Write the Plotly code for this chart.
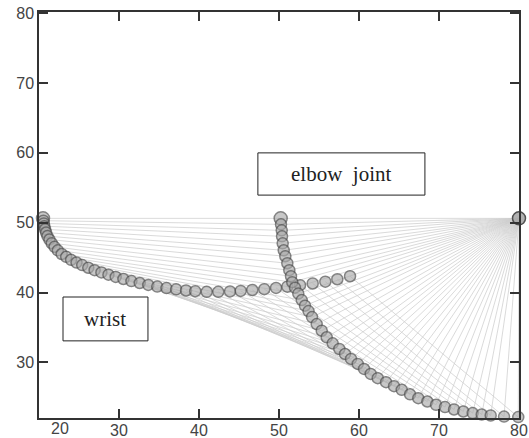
import plotly.graph_objects as go

# Shoulder position
shoulder_x = [80.0]
shoulder_y = [50.62]

# Elbow joint trajectory
elbow_x = [50.21, 50.25, 50.34, 50.38, 50.46, 50.59, 50.79, 51.04, 51.29, 51.5,
           51.66, 52.0, 52.41, 52.84, 53.25, 53.69, 54.13, 54.71, 55.34, 55.96,
           56.71, 57.54, 58.25, 59.0, 59.84, 60.63, 61.46, 62.34, 63.38, 64.38,
           65.34, 66.38, 67.41, 68.54, 69.63, 70.75, 71.88, 73.04, 74.21, 75.34,
           76.46, 78.13, 79.91]
elbow_y = [50.62, 49.76, 48.90, 48.05, 47.05, 46.05, 45.20, 44.20, 43.20, 42.34,
           41.49, 40.70, 39.85, 38.92, 38.13, 37.35, 36.49, 35.49, 34.54, 33.60,
           32.74, 31.93, 31.21, 30.50, 29.79, 29.07, 28.36, 27.75, 27.18, 26.61,
           26.08, 25.44, 24.89, 24.41, 23.94, 23.61, 23.27, 22.98, 22.75, 22.55,
           22.41, 22.25, 22.18]

# Wrist trajectory
wrist_x = [20.5, 20.55, 20.6, 20.66, 20.76, 20.89, 21.05, 21.3, 21.59, 21.94,
           22.35, 22.83, 23.4, 24.01, 24.69, 25.4, 26.16, 26.95, 27.8, 28.68,
           29.59, 30.55, 31.55, 32.59, 33.66, 34.78, 35.93, 37.14, 38.38, 39.53,
           40.96, 42.41, 43.88, 45.21, 46.66, 48.16, 49.63, 51.04, 52.63, 54.21,
           55.79, 57.29, 58.88]
wrist_y = [50.62, 50.29, 49.90, 49.50, 49.06, 48.59, 48.08, 47.59, 47.06, 46.54,
           46.04, 45.52, 45.11, 44.68, 44.30, 43.93, 43.55, 43.21, 42.88, 42.56,
           42.24, 41.94, 41.64, 41.37, 41.10, 40.86, 40.64, 40.46, 40.30, 40.20,
           40.10, 40.10, 40.17, 40.24, 40.37, 40.49, 40.66, 40.84, 41.06, 41.30,
           41.56, 41.91, 42.34]

x_ticks = [20, 30, 40, 50, 60, 70, 80]
x_tick_text = ["", "30", "40", "50", "60", "70", "80"]
y_ticks = [30, 40, 50, 60, 70, 80]

# Link segments: shoulder -> elbow_i -> wrist_i
lx, ly = [], []
for ex, ey, wx, wy in zip(elbow_x, elbow_y, wrist_x, wrist_y):
    lx += [shoulder_x[0], ex, wx, None]
    ly += [shoulder_y[0], ey, wy, None]

fig = go.Figure()
fig.add_trace(go.Scatter(x=lx, y=ly, mode="lines",
                         line=dict(color="rgba(205,205,205,0.75)", width=1),
                         hoverinfo="skip", showlegend=False, cliponaxis=True))

marker_style = dict(color="rgba(168,168,168,0.9)",
                    line=dict(color="rgb(80,80,80)", width=1.5))
elbow_sizes = [13] + [11] * (len(elbow_x) - 1)
wrist_sizes = [13] + [11] * (len(wrist_x) - 1)

fig.add_trace(go.Scatter(x=wrist_x, y=wrist_y, mode="markers",
                         marker=dict(size=wrist_sizes, **marker_style),
                         showlegend=False, cliponaxis=False))
fig.add_trace(go.Scatter(x=elbow_x, y=elbow_y, mode="markers",
                         marker=dict(size=elbow_sizes, **marker_style),
                         showlegend=False, cliponaxis=False))
fig.add_trace(go.Scatter(x=shoulder_x, y=shoulder_y, mode="markers",
                         marker=dict(size=13, **marker_style),
                         showlegend=False, cliponaxis=False))

tick_font = dict(family="Liberation Sans, Arial, sans-serif", size=16,
                 color="#444444")
axis_common = dict(showgrid=False, zeroline=False, showline=True,
                   linecolor="#333333", linewidth=1.5, mirror="ticks",
                   ticks="inside", tickcolor="#333333", tickwidth=1.5,
                   ticklen=9, automargin=False, tickfont=tick_font)

fig.update_xaxes(range=[20, 80], tickvals=x_ticks, ticktext=x_tick_text,
                 ticklabelstandoff=-3, **axis_common)
fig.update_yaxes(range=[22.05, 80.15], tickvals=y_ticks, **axis_common)

fig.add_annotation(text="20", xref="paper", yref="paper", x=0.044, y=0,
                   xanchor="center", yanchor="top", yshift=0, showarrow=False,
                   font=tick_font)

# Label boxes
fig.add_shape(type="rect", xref="paper", yref="paper",
              x0=0.456, x1=0.804, y0=0.549, y1=0.653,
              line=dict(color="#222222", width=1), fillcolor="white")
fig.add_annotation(text="elbow  joint", xref="paper", yref="paper",
                   x=0.630, y=0.601, xanchor="center", yanchor="middle",
                   showarrow=False,
                   font=dict(family="Liberation Serif, Times New Roman, serif",
                             size=21, color="#222222"))
fig.add_shape(type="rect", xref="paper", yref="paper",
              x0=0.050, x1=0.227, y0=0.190, y1=0.298,
              line=dict(color="#222222", width=1), fillcolor="white")
fig.add_annotation(text="wrist", xref="paper", yref="paper",
                   x=0.1385, y=0.244, xanchor="center", yanchor="middle",
                   showarrow=False,
                   font=dict(family="Liberation Serif, Times New Roman, serif",
                             size=21, color="#222222"))

fig.update_layout(width=529, height=438,
                  margin=dict(l=39, r=10, t=12, b=20),
                  paper_bgcolor="white", plot_bgcolor="white")

fig.write_html("out.html")
